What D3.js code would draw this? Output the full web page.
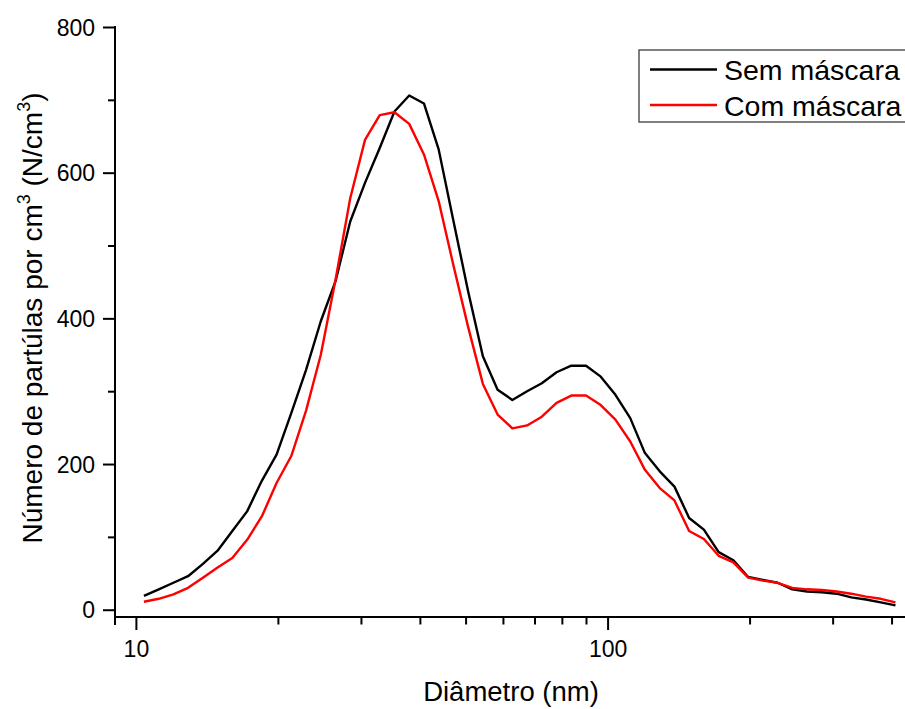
<!DOCTYPE html>
<html>
<head>
<meta charset="utf-8">
<script src="https://cdn.jsdelivr.net/npm/d3@7"></script>
<style>
  body { margin: 0; background: #fff; }
  svg { display: block; font-family: "Liberation Sans", Arial, sans-serif; }
</style>
</head>
<body>
<svg id="chart" width="905" height="709"></svg>
<script>
// diameters (nm) of the size bins
let diameters = [10.40, 11.18, 12.01, 12.90, 13.87, 14.90, 16.01, 17.21, 18.49, 19.87,
  21.35, 22.94, 24.66, 26.50, 28.47, 30.60, 32.88, 35.33, 37.97, 40.80,
  43.84, 47.11, 50.63, 54.40, 58.46, 62.82, 67.51, 72.54, 77.95, 83.77,
  90.02, 96.73, 103.9, 111.7, 120.0, 129.0, 138.6, 148.9, 160.0, 172.0,
  184.8, 198.6, 213.4, 229.3, 246.4, 264.8, 284.5, 305.8, 328.6, 353.1,
  379.4, 407.7];

let semMascara = [19, 28, 37, 46, 63, 81, 108, 135, 177, 213,
  270, 329, 396, 451, 533, 586, 634, 684, 706, 695,
  632, 534, 437, 348, 302, 288, 300, 311, 326, 335,
  335, 320, 295, 263, 215, 190, 169, 126, 110, 79,
  68, 45, 41, 37, 28, 25, 24, 22, 17, 14,
  10, 6];

let comMascara = [11, 15, 21, 30, 44, 58, 71, 96, 128, 174,
  211, 273, 350, 453, 565, 645, 679, 683, 667, 625,
  561, 473, 388, 310, 268, 249, 253, 265, 284, 294,
  294, 281, 261, 231, 192, 167, 150, 108, 97, 74,
  65, 44, 40, 37, 30, 28, 27, 25, 22, 18,
  15, 10];

let seriesNames = ["Sem máscara", "Com máscara"];
let seriesColors = ["#000000", "#ff0000"];

let xMajor = [10, 100];
let xMinor = [20, 30, 40, 50, 60, 70, 80, 90, 200, 300, 400];
let yMajor = [0, 200, 400, 600, 800];
let yMinor = [100, 300, 500, 700];

let svg = d3.select("#chart");

let xScale = d3.scaleLog()
  .domain([9.03, 470])
  .range([115, 924.6]);

let yScale = d3.scaleLinear()
  .domain([-10, 800])
  .range([617, 27]);

// x axis
let xAxisG = svg.append("g").attr("transform", "translate(0,617)");
xAxisG.call(d3.axisBottom(xScale).tickValues(xMajor).tickSize(13)
    .tickFormat(d3.format("d")))
  .call(g => g.select(".domain").remove());
xAxisG.selectAll("text")
  .attr("y", 40).attr("dy", null)
  .attr("font-size", 23).attr("font-family", null).attr("fill", "#000");
xAxisG.selectAll("line").attr("stroke", "#000").attr("stroke-width", 2);

svg.append("g").attr("transform", "translate(0,617)")
  .call(d3.axisBottom(xScale).tickValues(xMinor).tickSize(7.5).tickFormat(""))
  .call(g => g.select(".domain").remove())
  .selectAll("line").attr("stroke", "#000").attr("stroke-width", 2);

svg.append("line")
  .attr("x1", 114).attr("x2", 905)
  .attr("y1", 617).attr("y2", 617)
  .attr("stroke", "#000").attr("stroke-width", 2);

// y axis
let yAxisG = svg.append("g").attr("transform", "translate(115,0)");
yAxisG.call(d3.axisLeft(yScale).tickValues(yMajor).tickSize(12))
  .call(g => g.select(".domain").remove());
yAxisG.selectAll("text")
  .attr("x", -20).attr("dy", "0.36em")
  .attr("font-size", 23).attr("font-family", null).attr("fill", "#000");
yAxisG.selectAll("line").attr("stroke", "#000").attr("stroke-width", 2);

svg.append("g").attr("transform", "translate(115,0)")
  .call(d3.axisLeft(yScale).tickValues(yMinor).tickSize(7).tickFormat(""))
  .call(g => g.select(".domain").remove())
  .selectAll("line").attr("stroke", "#000").attr("stroke-width", 2);

svg.append("line")
  .attr("x1", 115).attr("x2", 115)
  .attr("y1", 26).attr("y2", 625)
  .attr("stroke", "#000").attr("stroke-width", 2);

// curves
let line = d3.line()
  .x((d, i) => xScale(diameters[i]))
  .y(d => yScale(d));

[semMascara, comMascara].forEach((data, s) => {
  svg.append("path")
    .datum(data)
    .attr("d", line)
    .attr("fill", "none")
    .attr("stroke", seriesColors[s])
    .attr("stroke-width", 2.4)
    .attr("stroke-linejoin", "round");
});

// axis titles
svg.append("text")
  .attr("x", 511).attr("y", 701)
  .attr("text-anchor", "middle")
  .attr("font-size", 27.5)
  .text("Diâmetro (nm)");

let yTitle = svg.append("text")
  .attr("transform", "translate(42,318) rotate(-90)")
  .attr("text-anchor", "middle")
  .attr("font-size", 28);
yTitle.append("tspan").text("Número de partúlas por cm");
yTitle.append("tspan").attr("font-size", 18).attr("dy", -12).text("3");
yTitle.append("tspan").attr("dy", 12).text(" (N/cm");
yTitle.append("tspan").attr("font-size", 18).attr("dy", -12).text("3");
yTitle.append("tspan").attr("dy", 12).text(")");

// legend
let legend = svg.append("g");
legend.append("rect")
  .attr("x", 639).attr("y", 50)
  .attr("width", 300).attr("height", 72)
  .attr("fill", "#fff")
  .attr("stroke", "#555").attr("stroke-width", 1.5);

seriesNames.forEach((name, i) => {
  let ly = 69.5 + i * 35.5;
  legend.append("line")
    .attr("x1", 650).attr("x2", 717)
    .attr("y1", ly).attr("y2", ly)
    .attr("stroke", seriesColors[i]).attr("stroke-width", 2.4);
  legend.append("text")
    .attr("x", 724).attr("y", ly + 10.5)
    .attr("font-size", 28.5)
    .text(name);
});
</script>
</body>
</html>
